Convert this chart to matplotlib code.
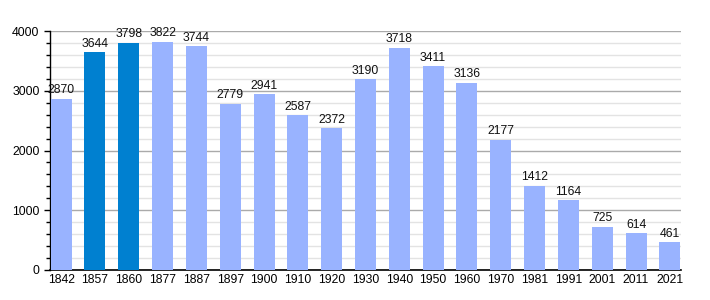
import matplotlib
matplotlib.use("Agg")
import matplotlib.pyplot as plt
from matplotlib.ticker import MultipleLocator

years = ["1842", "1857", "1860", "1877", "1887", "1897", "1900", "1910", "1920", "1930",
         "1940", "1950", "1960", "1970", "1981", "1991", "2001", "2011", "2021"]
population = [2870, 3644, 3798, 3822, 3744, 2779, 2941, 2587, 2372, 3190,
              3718, 3411, 3136, 2177, 1412, 1164, 725, 614, 461]
highlight = ["1857", "1860"]

plt.rcParams['font.family'] = ['Liberation Sans', 'DejaVu Sans']
fig = plt.figure(figsize=(7.1, 3.0), dpi=100)
ax = fig.add_axes([50/710, 0.1, 631/710, 239/300])

colors = ["#0080d0" if y in highlight else "#99b3ff" for y in years]
x = list(range(len(years)))
bars = ax.bar(x, population, width=0.62, color=colors, zorder=3)
for xi, v in zip(x, population):
    ax.text(xi, v + 45, str(v), ha="center", va="bottom", fontsize=8.8, color="#111111", zorder=4)

ax.set_xlim(-0.33, len(years) - 1 + 0.33)
ax.set_ylim(0, 4000)
ax.set_xticks(x)
ax.set_xticklabels(years, fontsize=8.8)
ax.yaxis.set_major_locator(MultipleLocator(1000))
ax.yaxis.set_minor_locator(MultipleLocator(200))
ax.tick_params(axis='y', labelsize=8.8, which='major', length=4, width=1, color="#000000")
ax.tick_params(axis='y', which='minor', length=3, width=1)
ax.tick_params(axis='x', length=0, pad=3)
ax.grid(axis='y', which='major', color="#aaaaaa", linewidth=1, zorder=0)
ax.grid(axis='y', which='minor', color="#e3e3e3", linewidth=1, zorder=0)
for s in ["top", "right"]:
    ax.spines[s].set_visible(False)
ax.spines["left"].set_linewidth(1)
ax.spines["bottom"].set_linewidth(1.2)

fig.savefig("out.png", dpi=100)
